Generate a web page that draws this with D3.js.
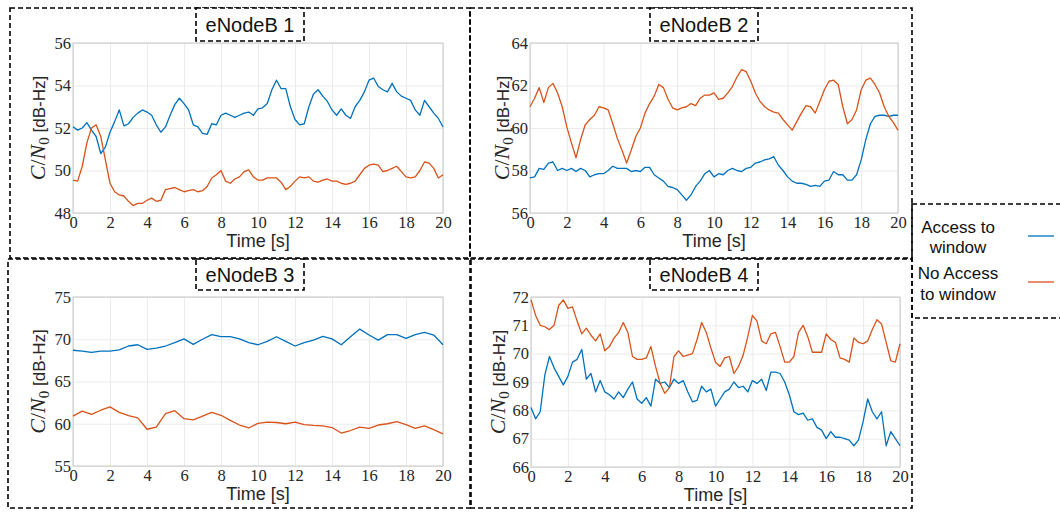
<!DOCTYPE html>
<html>
<head>
<meta charset="utf-8">
<script src="https://cdn.jsdelivr.net/npm/d3@7"></script>
<style>
  body { margin: 0; background: #fff; }
  svg { display: block; }
  .tick text { font-family: "Liberation Serif", "DejaVu Serif", serif; font-size: 16.5px; fill: #262626; }
  .grid line { stroke: #ebebeb; stroke-width: 1; }
  .grid path, .lab path { display: none; }
</style>
</head>
<body>
<svg id="chart" width="1060" height="512"></svg>
<script>
// time axis 0..20 s
var xTicks = [0, 2, 4, 6, 8, 10, 12, 14, 16, 18, 20];
var titles = ["eNodeB 1", "eNodeB 2", "eNodeB 3", "eNodeB 4"];
var yDomains = [[48, 56], [56, 64], [55, 75], [66, 72]];
var yTicks = [[48, 50, 52, 54, 56], [56, 58, 60, 62, 64], [55, 60, 65, 70, 75], [66, 67, 68, 69, 70, 71, 72]];
var legendLabels = [["Access to", "window"], ["No Access", "to window"]];
var colors = ["#0072BD", "#D95319"];

// step 0.25 s
var enb1Access = [52.06, 51.9, 52.0, 52.25, 51.9, 51.6, 50.8, 51.1, 51.8, 52.3, 52.85, 52.1, 52.2, 52.5, 52.7, 52.85, 52.75, 52.6, 52.15, 51.8,
  52.05, 52.6, 53.1, 53.4, 53.15, 52.85, 52.15, 52.05, 51.75, 51.7, 52.2, 52.15, 52.6, 52.7, 52.6, 52.5, 52.6, 52.7, 52.75, 52.6,
  52.9, 52.95, 53.15, 53.8, 54.25, 53.85, 53.85, 53.0, 52.4, 52.15, 52.2, 53.0, 53.6, 53.8, 53.5, 53.25, 52.85, 52.6, 52.9, 52.6,
  52.45, 53.0, 53.3, 53.7, 54.25, 54.35, 53.95, 53.8, 53.7, 54.1, 53.7, 53.5, 53.4, 53.3, 52.85, 52.6, 53.3, 53.0, 52.7, 52.45, 52.05];
var enb1NoAccess = [49.55, 49.5, 50.2, 51.3, 52.0, 52.15, 51.6, 50.5, 49.4, 49.0, 48.85, 48.8, 48.55, 48.35, 48.45, 48.45, 48.6, 48.7, 48.55, 48.6,
  49.1, 49.15, 49.2, 49.1, 49.0, 49.05, 49.1, 49.0, 49.05, 49.25, 49.65, 49.8, 50.0, 49.5, 49.4, 49.6, 49.7, 49.95, 50.03, 49.7,
  49.55, 49.55, 49.65, 49.65, 49.65, 49.45, 49.1, 49.25, 49.5, 49.7, 49.65, 49.7, 49.5, 49.45, 49.55, 49.6, 49.5, 49.5, 49.4, 49.35,
  49.4, 49.5, 49.8, 50.1, 50.25, 50.3, 50.25, 49.95, 50.0, 50.1, 50.2, 49.95, 49.7, 49.65, 49.7, 50.0, 50.4, 50.35, 50.1, 49.65, 49.8];

var enb2Access = [57.65, 57.7, 58.1, 58.05, 58.35, 58.4, 58.0, 58.1, 58.0, 58.1, 57.95, 58.1, 58.0, 57.7, 57.8, 57.85, 57.85, 58.0, 58.2, 58.1,
  58.1, 58.1, 57.95, 58.0, 57.95, 58.15, 58.15, 57.8, 57.65, 57.5, 57.25, 57.2, 57.1, 56.85, 56.6, 56.85, 57.25, 57.5, 57.85, 58.0,
  57.7, 57.85, 57.8, 58.0, 58.1, 58.0, 57.95, 58.1, 58.15, 58.35, 58.4, 58.5, 58.55, 58.65, 58.25, 58.0, 57.7, 57.5, 57.4, 57.4,
  57.35, 57.25, 57.3, 57.25, 57.5, 57.55, 57.95, 57.8, 57.8, 57.55, 57.55, 57.8, 58.5, 59.45, 60.2, 60.55, 60.6, 60.6, 60.55, 60.6, 60.6];
var enb2NoAccess = [61.0, 61.4, 61.9, 61.2, 61.9, 62.1, 61.65, 61.0, 60.05, 59.3, 58.6, 59.45, 60.15, 60.4, 60.6, 61.0, 60.95, 60.85, 60.2, 59.5,
  58.95, 58.35, 58.95, 59.6, 60.0, 60.7, 61.15, 61.5, 62.05, 61.9, 61.35, 60.95, 60.85, 60.95, 61.0, 61.15, 61.05, 61.4, 61.55, 61.55,
  61.65, 61.35, 61.4, 61.65, 61.95, 62.4, 62.75, 62.65, 62.2, 61.65, 61.25, 61.0, 60.85, 60.75, 60.7, 60.4, 60.15, 59.9, 60.3, 60.7,
  61.05, 61.0, 60.7, 61.25, 61.8, 62.2, 62.25, 62.05, 61.0, 60.2, 60.4, 60.85, 61.8, 62.25, 62.35, 62.05, 61.65, 61.0, 60.55, 60.25, 59.9];

// step 0.5 s
var enb3Access = [68.7, 68.6, 68.45, 68.6, 68.6, 68.75, 69.2, 69.35, 68.8, 68.95, 69.2, 69.6, 70.05, 69.4, 70.0, 70.55, 70.3, 70.3, 70.05, 69.6,
  69.35, 69.75, 70.3, 69.75, 69.2, 69.6, 69.9, 70.35, 70.05, 69.35, 70.3, 71.2, 70.5, 69.9, 70.55, 70.55, 70.1, 70.55, 70.8, 70.5, 69.35];
var enb3NoAccess = [60.9, 61.5, 61.1, 61.6, 62.0, 61.35, 60.95, 60.7, 59.35, 59.6, 61.2, 61.55, 60.6, 60.45, 60.9, 61.35, 61.0, 60.4, 59.85, 59.5,
  60.05, 60.2, 60.15, 60.0, 60.2, 59.9, 59.8, 59.75, 59.55, 58.9, 59.2, 59.6, 59.45, 59.85, 60.0, 60.25, 59.9, 59.45, 59.75, 59.3, 58.8];

// step 0.25 s
var enb4Access = [68.1, 67.7, 67.95, 69.25, 69.9, 69.5, 69.2, 68.9, 69.2, 69.7, 69.8, 70.15, 69.1, 69.3, 68.65, 69.05, 68.65, 68.55, 68.4, 68.65,
  68.45, 68.75, 69.0, 68.4, 68.25, 68.45, 68.15, 69.1, 68.95, 69.0, 68.8, 69.1, 68.95, 69.05, 68.65, 68.3, 68.35, 68.85, 68.65, 68.75,
  68.15, 68.4, 68.65, 68.75, 69.0, 68.8, 68.85, 68.65, 69.05, 68.95, 69.1, 68.7, 69.35, 69.35, 69.3, 69.0, 68.55, 67.95, 67.85, 67.9,
  67.65, 67.7, 67.4, 67.3, 67.0, 67.25, 67.05, 67.05, 67.0, 66.95, 66.75, 66.95, 67.6, 68.4, 67.95, 67.7, 67.95, 66.75, 67.25, 67.0, 66.75];
var enb4NoAccess = [71.9, 71.35, 71.0, 70.95, 70.85, 71.0, 71.7, 71.9, 71.6, 71.65, 71.15, 70.7, 70.9, 70.65, 70.45, 70.7, 70.1, 70.25, 70.55, 70.75,
  71.1, 70.75, 69.9, 69.8, 69.8, 69.85, 70.25, 69.55, 68.95, 68.6, 68.8, 69.9, 70.1, 69.9, 69.95, 70.0, 70.5, 71.1, 70.75, 70.2,
  69.7, 69.55, 69.85, 69.9, 69.3, 69.55, 69.95, 70.6, 71.35, 71.15, 70.45, 70.35, 70.7, 70.75, 70.25, 69.7, 69.7, 69.9, 70.75, 71.0,
  70.6, 70.05, 70.05, 70.05, 70.7, 70.5, 70.4, 69.85, 69.8, 69.7, 70.55, 70.4, 70.35, 70.45, 70.85, 71.2, 71.05, 70.4, 69.75, 69.7, 70.35];

var series = [[enb1Access, enb1NoAccess], [enb2Access, enb2NoAccess], [enb3Access, enb3NoAccess], [enb4Access, enb4NoAccess]];

// panel layout: outer dashed box, title box, plot area, y label x
var panels = [
  {box: [10, 8, 470, 258], title: [196, 8, 304, 41], plot: [73, 43, 443, 213], ylab: 38},
  {box: [470, 8, 912, 258], title: [650, 8, 758, 41], plot: [530, 43, 898, 213], ylab: 502},
  {box: [8, 259, 471, 508], title: [196, 259, 304, 290], plot: [73, 297, 443, 466], ylab: 38},
  {box: [470, 259, 912, 508], title: [650, 259, 758, 290], plot: [531, 297, 900, 467], ylab: 498}
];

var svg = d3.select("#chart");
var dash = "5,3";
var fmt = d3.format("d");

function dashedRect(g, r){
    g.append("rect")
        .attr("x", r[0]).attr("y", r[1])
        .attr("width", r[2] - r[0]).attr("height", r[3] - r[1])
        .attr("fill", "none")
        .attr("stroke", "#000")
        .attr("stroke-width", 1.6)
        .attr("stroke-dasharray", dash);
}

panels.forEach(function(p, k){
    var g = svg.append("g");
    dashedRect(g, p.box);

    var w = p.plot[2] - p.plot[0], h = p.plot[3] - p.plot[1];
    var x = d3.scaleLinear().domain([0, 20]).range([p.plot[0], p.plot[2]]);
    var y = d3.scaleLinear().domain(yDomains[k]).range([p.plot[3], p.plot[1]]);

    // grid
    g.append("g").attr("class", "grid")
        .attr("transform", "translate(0," + p.plot[3] + ")")
        .call(d3.axisBottom(x).tickValues(xTicks).tickSize(-h).tickFormat(""));
    g.append("g").attr("class", "grid")
        .attr("transform", "translate(" + p.plot[0] + ",0)")
        .call(d3.axisLeft(y).tickValues(yTicks[k]).tickSize(-w).tickFormat(""));

    // tick labels
    g.append("g").attr("class", "lab")
        .attr("transform", "translate(0," + p.plot[3] + ")")
        .call(d3.axisBottom(x).tickValues(xTicks).tickSize(0).tickPadding(3).tickFormat(fmt));
    g.append("g").attr("class", "lab")
        .attr("transform", "translate(" + p.plot[0] + ",0)")
        .call(d3.axisLeft(y).tickValues(yTicks[k]).tickSize(0).tickPadding(2).tickFormat(fmt));

    g.append("rect")
        .attr("x", p.plot[0]).attr("y", p.plot[1])
        .attr("width", w).attr("height", h)
        .attr("fill", "none").attr("stroke", "#c8c8c8").attr("stroke-width", 1);

    // lines
    series[k].forEach(function(vals, j){
        var step = 20 / (vals.length - 1);
        var line = d3.line()
            .x(function(d, i){ return x(i * step); })
            .y(function(d){ return y(d); });
        g.append("path")
            .datum(vals)
            .attr("d", line)
            .attr("fill", "none")
            .attr("stroke", colors[j])
            .attr("stroke-width", 1.3)
            .attr("stroke-linejoin", "round");
    });

    // x label
    g.append("text")
        .attr("x", (p.plot[0] + p.plot[2]) / 2)
        .attr("y", p.plot[3] + 34)
        .attr("text-anchor", "middle")
        .style("font-family", "'Liberation Sans', Arial, sans-serif")
        .style("font-size", "18px")
        .style("fill", "#262626")
        .text("Time [s]");

    // y label
    var cy = (p.plot[1] + p.plot[3]) / 2;
    var yl = g.append("text")
        .attr("transform", "translate(" + (p.ylab + 7) + "," + cy + ") rotate(-90)")
        .attr("text-anchor", "middle")
        .style("fill", "#262626")
        .style("font-size", "22px");
    yl.append("tspan").style("font-family", "'Liberation Serif', serif").style("font-style", "italic").text("C");
    yl.append("tspan").style("font-family", "'Liberation Serif', serif").text("/");
    yl.append("tspan").style("font-family", "'Liberation Serif', serif").style("font-style", "italic").text("N");
    yl.append("tspan").style("font-family", "'Liberation Serif', serif").style("font-size", "15px").attr("dy", 4).text("0");
    yl.append("tspan").style("font-family", "'Liberation Sans', Arial, sans-serif").style("font-size", "17px").attr("dy", -4).text("\u00a0[dB-Hz]");

    // title box
    var t = p.title;
    g.append("rect")
        .attr("x", t[0]).attr("y", t[1])
        .attr("width", t[2] - t[0]).attr("height", t[3] - t[1])
        .attr("fill", "#fff").attr("stroke", "#000")
        .attr("stroke-width", 1.6).attr("stroke-dasharray", dash);
    g.append("text")
        .attr("x", (t[0] + t[2]) / 2)
        .attr("y", (t[1] + t[3]) / 2 + 7)
        .attr("text-anchor", "middle")
        .style("font-family", "'Liberation Sans', Arial, sans-serif")
        .style("font-size", "20px")
        .style("fill", "#111")
        .text(titles[k]);
});

// legend
var lg = svg.append("g");
dashedRect(lg, [912, 204, 1075, 318]);
var legY = [[233, 253], [279, 300]];
var legLineY = [236, 282];
legendLabels.forEach(function(lines, j){
    lines.forEach(function(s, i){
        lg.append("text")
            .attr("x", 958)
            .attr("y", legY[j][i])
            .attr("text-anchor", "middle")
            .style("font-family", "'Liberation Sans', Arial, sans-serif")
            .style("font-size", "17px")
            .style("fill", "#111")
            .text(s);
    });
    lg.append("line")
        .attr("x1", 1028).attr("x2", 1054)
        .attr("y1", legLineY[j]).attr("y2", legLineY[j])
        .attr("stroke", colors[j]).attr("stroke-width", 1.3);
});
</script>
</body>
</html>
